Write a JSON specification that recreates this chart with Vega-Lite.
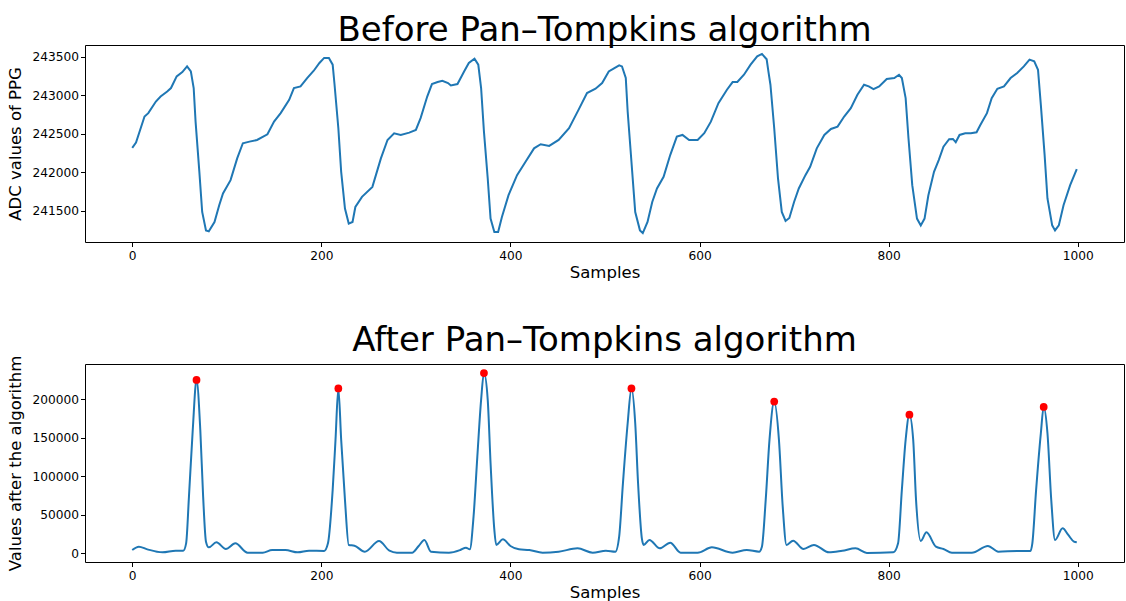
{
  "$schema": "https://vega.github.io/schema/vega-lite/v6.json",
  "background": "white",
  "padding": {"left": 7, "top": 13, "right": 1, "bottom": 2},
  "spacing": 41,
  "config": {
    "font": "DejaVu Sans",
    "view": {"stroke": "black", "strokeWidth": 1},
    "axis": {
      "domain": false,
      "grid": false,
      "tickColor": "black",
      "tickSize": 4.5,
      "labelColor": "black",
      "labelFont": "DejaVu Sans",
      "labelFontSize": 12.2,
      "titleFont": "DejaVu Sans",
      "titleFontSize": 16.5,
      "titleFontWeight": "normal",
      "titleColor": "black"
    },
    "axisX": {"labelPadding": 2.5, "titlePadding": 3},
    "axisY": {"labelPadding": 2, "titlePadding": 8},
    "title": {
      "font": "DejaVu Sans",
      "fontSize": 34,
      "fontWeight": "normal",
      "color": "black",
      "anchor": "middle",
      "baseline": "alphabetic",
      "offset": -3
    }
  },
  "datasets": {
    "ppg": [
      {"sample": 0, "value": 242320}, {"sample": 4, "value": 242387}, {"sample": 13, "value": 242726},
      {"sample": 17, "value": 242770}, {"sample": 25, "value": 242921}, {"sample": 30, "value": 242986},
      {"sample": 37, "value": 243052}, {"sample": 41, "value": 243096}, {"sample": 47, "value": 243247},
      {"sample": 53, "value": 243304}, {"sample": 58, "value": 243377}, {"sample": 62, "value": 243312},
      {"sample": 65, "value": 243096}, {"sample": 67, "value": 242660}, {"sample": 71, "value": 242008},
      {"sample": 74, "value": 241487}, {"sample": 78, "value": 241248}, {"sample": 81, "value": 241235},
      {"sample": 87, "value": 241357}, {"sample": 92, "value": 241574}, {"sample": 96, "value": 241727},
      {"sample": 104, "value": 241900}, {"sample": 111, "value": 242183}, {"sample": 117, "value": 242379},
      {"sample": 124, "value": 242400}, {"sample": 132, "value": 242422}, {"sample": 143, "value": 242496},
      {"sample": 150, "value": 242660}, {"sample": 157, "value": 242770}, {"sample": 166, "value": 242943},
      {"sample": 171, "value": 243096}, {"sample": 178, "value": 243117}, {"sample": 185, "value": 243226},
      {"sample": 192, "value": 243321}, {"sample": 198, "value": 243422}, {"sample": 203, "value": 243487},
      {"sample": 208, "value": 243487}, {"sample": 212, "value": 243400}, {"sample": 214, "value": 243139},
      {"sample": 218, "value": 242574}, {"sample": 221, "value": 242008}, {"sample": 225, "value": 241531},
      {"sample": 229, "value": 241336}, {"sample": 233, "value": 241357}, {"sample": 236, "value": 241552},
      {"sample": 243, "value": 241683}, {"sample": 254, "value": 241813}, {"sample": 263, "value": 242183},
      {"sample": 270, "value": 242422}, {"sample": 277, "value": 242509}, {"sample": 284, "value": 242487},
      {"sample": 293, "value": 242517}, {"sample": 300, "value": 242552}, {"sample": 305, "value": 242705},
      {"sample": 312, "value": 242986}, {"sample": 317, "value": 243148}, {"sample": 323, "value": 243174},
      {"sample": 328, "value": 243191}, {"sample": 334, "value": 243161}, {"sample": 337, "value": 243130},
      {"sample": 344, "value": 243148}, {"sample": 351, "value": 243312}, {"sample": 356, "value": 243422},
      {"sample": 362, "value": 243478}, {"sample": 366, "value": 243400}, {"sample": 369, "value": 243096},
      {"sample": 372, "value": 242530}, {"sample": 376, "value": 241922}, {"sample": 379, "value": 241401},
      {"sample": 383, "value": 241226}, {"sample": 387, "value": 241226}, {"sample": 391, "value": 241422},
      {"sample": 398, "value": 241705}, {"sample": 407, "value": 241965}, {"sample": 416, "value": 242139},
      {"sample": 425, "value": 242313}, {"sample": 432, "value": 242366}, {"sample": 441, "value": 242344},
      {"sample": 451, "value": 242422}, {"sample": 462, "value": 242574}, {"sample": 472, "value": 242813},
      {"sample": 481, "value": 243031}, {"sample": 490, "value": 243087}, {"sample": 497, "value": 243161},
      {"sample": 504, "value": 243312}, {"sample": 510, "value": 243356}, {"sample": 515, "value": 243391},
      {"sample": 518, "value": 243377}, {"sample": 522, "value": 243226}, {"sample": 524, "value": 242791},
      {"sample": 528, "value": 242139}, {"sample": 532, "value": 241487}, {"sample": 537, "value": 241248},
      {"sample": 540, "value": 241213}, {"sample": 545, "value": 241357}, {"sample": 550, "value": 241617},
      {"sample": 555, "value": 241792}, {"sample": 562, "value": 241943}, {"sample": 569, "value": 242226},
      {"sample": 576, "value": 242465}, {"sample": 582, "value": 242487}, {"sample": 589, "value": 242422},
      {"sample": 598, "value": 242422}, {"sample": 605, "value": 242509}, {"sample": 612, "value": 242660},
      {"sample": 620, "value": 242900}, {"sample": 629, "value": 243074}, {"sample": 635, "value": 243174},
      {"sample": 640, "value": 243174}, {"sample": 647, "value": 243269}, {"sample": 654, "value": 243400},
      {"sample": 661, "value": 243508}, {"sample": 666, "value": 243539}, {"sample": 671, "value": 243470},
      {"sample": 673, "value": 243300}, {"sample": 675, "value": 243139}, {"sample": 679, "value": 242574},
      {"sample": 683, "value": 241922}, {"sample": 687, "value": 241487}, {"sample": 691, "value": 241370},
      {"sample": 695, "value": 241409}, {"sample": 700, "value": 241617}, {"sample": 705, "value": 241792},
      {"sample": 712, "value": 241965}, {"sample": 717, "value": 242074}, {"sample": 724, "value": 242313},
      {"sample": 732, "value": 242487}, {"sample": 739, "value": 242565}, {"sample": 746, "value": 242595},
      {"sample": 753, "value": 242726}, {"sample": 760, "value": 242835}, {"sample": 767, "value": 243009},
      {"sample": 774, "value": 243139}, {"sample": 779, "value": 243117}, {"sample": 784, "value": 243083},
      {"sample": 790, "value": 243117}, {"sample": 798, "value": 243213}, {"sample": 806, "value": 243226},
      {"sample": 811, "value": 243269}, {"sample": 814, "value": 243226}, {"sample": 818, "value": 242965},
      {"sample": 821, "value": 242444}, {"sample": 825, "value": 241835}, {"sample": 830, "value": 241401},
      {"sample": 834, "value": 241313}, {"sample": 838, "value": 241401}, {"sample": 842, "value": 241700},
      {"sample": 848, "value": 242008}, {"sample": 853, "value": 242161}, {"sample": 858, "value": 242335},
      {"sample": 864, "value": 242431}, {"sample": 868, "value": 242435}, {"sample": 871, "value": 242392},
      {"sample": 875, "value": 242487}, {"sample": 881, "value": 242509}, {"sample": 887, "value": 242509},
      {"sample": 893, "value": 242522}, {"sample": 897, "value": 242617}, {"sample": 904, "value": 242770},
      {"sample": 909, "value": 242965}, {"sample": 915, "value": 243087}, {"sample": 922, "value": 243117},
      {"sample": 929, "value": 243226}, {"sample": 936, "value": 243291}, {"sample": 943, "value": 243377},
      {"sample": 949, "value": 243465}, {"sample": 954, "value": 243443}, {"sample": 958, "value": 243334},
      {"sample": 961, "value": 242878}, {"sample": 965, "value": 242226}, {"sample": 968, "value": 241662},
      {"sample": 973, "value": 241313}, {"sample": 976, "value": 241248}, {"sample": 980, "value": 241313},
      {"sample": 985, "value": 241574}, {"sample": 992, "value": 241835}, {"sample": 999, "value": 242044}
    ],
    "processed": [
      {"sample": 0, "value": 4400}, {"sample": 7, "value": 8700}, {"sample": 16, "value": 5200},
      {"sample": 32, "value": 1300}, {"sample": 46, "value": 3500}, {"sample": 54, "value": 3500},
      {"sample": 57, "value": 13000}, {"sample": 60, "value": 73600}, {"sample": 64, "value": 160000},
      {"sample": 68, "value": 225000}, {"sample": 72, "value": 160000}, {"sample": 75, "value": 73600},
      {"sample": 78, "value": 15200}, {"sample": 81, "value": 7800}, {"sample": 89, "value": 14300},
      {"sample": 99, "value": 5700}, {"sample": 109, "value": 13000}, {"sample": 122, "value": 900},
      {"sample": 138, "value": 900}, {"sample": 148, "value": 4400}, {"sample": 162, "value": 4400},
      {"sample": 175, "value": 1300}, {"sample": 187, "value": 3500}, {"sample": 203, "value": 3100},
      {"sample": 207, "value": 13000}, {"sample": 212, "value": 82300}, {"sample": 215, "value": 147300},
      {"sample": 218, "value": 214000}, {"sample": 221, "value": 147300}, {"sample": 225, "value": 69400},
      {"sample": 229, "value": 10900}, {"sample": 235, "value": 10000}, {"sample": 246, "value": 2200},
      {"sample": 261, "value": 16100}, {"sample": 272, "value": 3500}, {"sample": 280, "value": 900},
      {"sample": 296, "value": 900}, {"sample": 303, "value": 9600}, {"sample": 309, "value": 17400},
      {"sample": 316, "value": 2200}, {"sample": 335, "value": 900}, {"sample": 347, "value": 4400},
      {"sample": 353, "value": 7400}, {"sample": 357, "value": 5200}, {"sample": 361, "value": 47700},
      {"sample": 365, "value": 125600}, {"sample": 369, "value": 199200}, {"sample": 372, "value": 234000},
      {"sample": 376, "value": 199200}, {"sample": 379, "value": 116900}, {"sample": 383, "value": 30400},
      {"sample": 385, "value": 10900}, {"sample": 392, "value": 18200}, {"sample": 400, "value": 9600},
      {"sample": 409, "value": 5200}, {"sample": 420, "value": 4400}, {"sample": 434, "value": 900},
      {"sample": 451, "value": 2200}, {"sample": 471, "value": 6500}, {"sample": 487, "value": 900},
      {"sample": 501, "value": 3500}, {"sample": 511, "value": 2200}, {"sample": 515, "value": 21700},
      {"sample": 519, "value": 90900}, {"sample": 524, "value": 168800}, {"sample": 528, "value": 214000},
      {"sample": 532, "value": 168800}, {"sample": 535, "value": 90900}, {"sample": 539, "value": 19500},
      {"sample": 541, "value": 10900}, {"sample": 547, "value": 17400}, {"sample": 558, "value": 6500},
      {"sample": 569, "value": 13900}, {"sample": 580, "value": 900}, {"sample": 598, "value": 900},
      {"sample": 613, "value": 7800}, {"sample": 635, "value": 900}, {"sample": 650, "value": 4400},
      {"sample": 663, "value": 2200}, {"sample": 666, "value": 8700}, {"sample": 670, "value": 69400},
      {"sample": 674, "value": 147300}, {"sample": 679, "value": 197000}, {"sample": 684, "value": 147300},
      {"sample": 688, "value": 60600}, {"sample": 692, "value": 10900}, {"sample": 699, "value": 16500},
      {"sample": 710, "value": 5700}, {"sample": 721, "value": 10900}, {"sample": 737, "value": 1300},
      {"sample": 751, "value": 3500}, {"sample": 765, "value": 6500}, {"sample": 777, "value": 500},
      {"sample": 805, "value": 1300}, {"sample": 810, "value": 13000}, {"sample": 814, "value": 82300},
      {"sample": 818, "value": 147300}, {"sample": 822, "value": 180000}, {"sample": 826, "value": 147300},
      {"sample": 829, "value": 69400}, {"sample": 834, "value": 16100}, {"sample": 840, "value": 27300},
      {"sample": 850, "value": 8700}, {"sample": 858, "value": 5700}, {"sample": 867, "value": 900},
      {"sample": 888, "value": 900}, {"sample": 905, "value": 9600}, {"sample": 916, "value": 2200},
      {"sample": 936, "value": 3100}, {"sample": 950, "value": 3100}, {"sample": 952, "value": 13000},
      {"sample": 956, "value": 82300}, {"sample": 961, "value": 155800}, {"sample": 964, "value": 190000},
      {"sample": 968, "value": 155800}, {"sample": 972, "value": 69400}, {"sample": 976, "value": 17400},
      {"sample": 984, "value": 32500}, {"sample": 990, "value": 23900}, {"sample": 996, "value": 15200},
      {"sample": 999, "value": 14300}
    ],
    "peaks": [
      {"sample": 68, "value": 225000}, {"sample": 218, "value": 214000}, {"sample": 372, "value": 234000},
      {"sample": 528, "value": 214000}, {"sample": 679, "value": 197000}, {"sample": 822, "value": 180000},
      {"sample": 964, "value": 190000}
    ]
  },
  "vconcat": [
    {
      "title": "Before Pan–Tompkins algorithm",
      "width": 1039,
      "height": 197,
      "data": {"name": "ppg"},
      "mark": {"type": "line", "color": "#1f77b4", "strokeWidth": 2},
      "encoding": {
        "x": {
          "field": "sample", "type": "quantitative",
          "scale": {"domain": [-49.95, 1048.95], "nice": false, "zero": false},
          "axis": {"values": [0, 200, 400, 600, 800, 1000], "title": "Samples", "format": "d"}
        },
        "y": {
          "field": "value", "type": "quantitative",
          "scale": {"domain": [241097, 243655], "nice": false, "zero": false},
          "axis": {"values": [241500, 242000, 242500, 243000, 243500], "title": "ADC values of PPG", "format": "d"}
        }
      }
    },
    {
      "title": "After Pan–Tompkins algorithm",
      "width": 1039,
      "height": 198,
      "encoding": {
        "x": {
          "field": "sample", "type": "quantitative",
          "scale": {"domain": [-49.95, 1048.95], "nice": false, "zero": false},
          "axis": {"values": [0, 200, 400, 600, 800, 1000], "title": "Samples", "format": "d"}
        },
        "y": {
          "field": "value", "type": "quantitative",
          "scale": {"domain": [-11200, 245700], "nice": false, "zero": false},
          "axis": {"values": [0, 50000, 100000, 150000, 200000], "title": "Values after the algorithm", "format": "d"}
        }
      },
      "layer": [
        {
          "data": {"name": "processed"},
          "mark": {"type": "line", "color": "#1f77b4", "strokeWidth": 2, "interpolate": "monotone"}
        },
        {
          "data": {"name": "peaks"},
          "mark": {"type": "circle", "color": "#ff0000", "opacity": 1, "size": 60}
        }
      ]
    }
  ]
}
